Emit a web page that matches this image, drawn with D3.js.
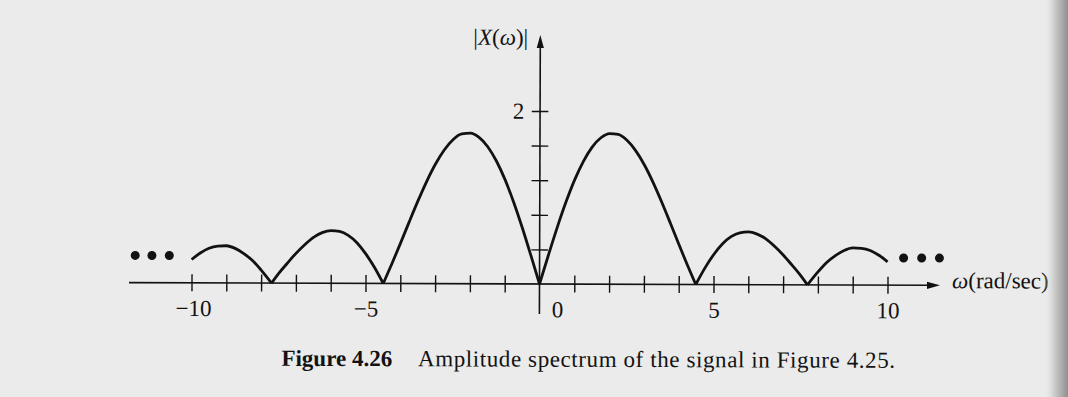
<!DOCTYPE html>
<html>
<head>
<meta charset="utf-8">
<script src="https://cdn.jsdelivr.net/npm/d3@7"></script>
<style>
  html, body { margin: 0; padding: 0; background: #ebebeb; }
  svg { display: block; }
</style>
</head>
<body>
<svg id="chart" width="1068" height="397"></svg>
<script>
// Amplitude spectrum |X(ω)| sampled for ω ≥ 0 (the spectrum is even in ω).
const omega = [0, 0.25, 0.5, 0.75, 1, 1.25, 1.5, 1.75, 2, 2.25, 2.5, 2.75, 3, 3.25, 3.5, 3.75, 4, 4.25, 4.49,
               4.75, 5, 5.25, 5.5, 5.75, 6, 6.25, 6.5, 6.75, 7, 7.25, 7.5, 7.7,
               8, 8.25, 8.5, 8.75, 9, 9.25, 9.5, 9.75, 10];
const magnitude = [0, 0.33, 0.65, 0.945, 1.205, 1.42, 1.585, 1.693, 1.742, 1.732, 1.665, 1.546, 1.383, 1.183, 0.956, 0.713, 0.464, 0.222, 0,
                   0.19, 0.345, 0.47, 0.555, 0.60, 0.61, 0.585, 0.53, 0.445, 0.345, 0.23, 0.11, 0,
                   0.15, 0.26, 0.34, 0.40, 0.43, 0.425, 0.40, 0.345, 0.27];

// Axis ticks and labels
const xTicks = [-10, -9, -8, -7, -6, -5, -4, -3, -2, -1, 1, 2, 3, 4, 5, 6, 7, 8, 9, 10];
const xTickLabels = [-10, -5, 0, 5, 10];
const yTicks = [0.4, 0.8, 1.2, 1.6, 2.0];
const yTickLabels = [2];

// "continues" dots at both ends of the frequency axis
const leftDots = [-11.62, -11.14, -10.64];
const rightDots = [10.46, 10.98, 11.49];
const dotLevel = 0.315;

const W = 1068, H = 397;
const serif = "'Liberation Serif', 'Times New Roman', Times, serif";
const fontSize = "23px";

const svg = d3.select("#chart");
const defs = svg.append("defs");

const edge = defs.append("linearGradient").attr("id", "edgeShade")
  .attr("x1", "0").attr("x2", "1").attr("y1", "0").attr("y2", "0");
edge.append("stop").attr("offset", "0").attr("stop-color", "#ebebeb").attr("stop-opacity", 0);
edge.append("stop").attr("offset", "0.4").attr("stop-color", "#cfcfcf").attr("stop-opacity", 1);
edge.append("stop").attr("offset", "1").attr("stop-color", "#909090").attr("stop-opacity", 1);

svg.append("rect").attr("width", W).attr("height", H).attr("fill", "#ebebeb");

const page = svg.append("g").attr("transform", "rotate(0.19, 540, 284)");

// scales
const x = d3.scaleLinear().domain([-10, 10]).range([191.5, 887.5]);
const y = d3.scaleLinear().domain([0, 2]).range([284, 111]);

const ink = "#121212";

// --- horizontal axis ---
const xAxisG = page.append("g").attr("transform", `translate(0,${y(0)})`);
xAxisG.call(d3.axisBottom(x).tickValues(xTicks).tickSize(8.5).tickFormat(""))
  .call(g => g.select(".domain").remove())
  .call(g => g.selectAll(".tick line").attr("y1", -8.5).attr("y2", 8.5)
                .attr("stroke", ink).attr("stroke-width", 1.4));

const xLabelG = page.append("g").attr("transform", `translate(0,${y(0)})`);
xLabelG.call(d3.axisBottom(x).tickValues(xTickLabels).tickSize(0).tickPadding(16.8))
  .call(g => g.select(".domain").remove())
  .call(g => g.selectAll("text")
      .attr("fill", ink)
      .style("font-family", serif)
      .style("font-size", fontSize)
      .attr("dx", d => d === 0 ? 17.5 : (d === -10 ? 1.5 : 0)));

const xEnd = 940;
page.append("line")
  .attr("x1", 129).attr("x2", xEnd - 10)
  .attr("y1", y(0)).attr("y2", y(0))
  .attr("stroke", ink).attr("stroke-width", 1.6);
page.append("path")
  .attr("d", `M${xEnd},${y(0)} L${xEnd - 13},${y(0) - 3.6} L${xEnd - 13},${y(0) + 3.6} Z`)
  .attr("fill", ink);

page.append("text")
  .attr("x", 952).attr("y", 286.8)
  .attr("fill", ink)
  .style("font-family", serif)
  .style("font-size", fontSize)
  .call(t => {
    t.append("tspan").attr("font-style", "italic").text("ω");
    t.append("tspan").text("(rad/sec)");
  });

// --- vertical axis ---
const yAxisG = page.append("g").attr("transform", `translate(${x(0)},0)`);
yAxisG.call(d3.axisLeft(y).tickValues(yTicks).tickSize(8.3).tickFormat(""))
  .call(g => g.select(".domain").remove())
  .call(g => g.selectAll(".tick line").attr("x1", -8.3).attr("x2", 8.3)
                .attr("stroke", ink).attr("stroke-width", 1.4));

const yLabelG = page.append("g").attr("transform", `translate(${x(0)},0)`);
yLabelG.call(d3.axisLeft(y).tickValues(yTickLabels).tickSize(0).tickPadding(15.8).tickFormat(d3.format("d")))
  .call(g => g.select(".domain").remove())
  .call(g => g.selectAll("text")
      .attr("fill", ink)
      .style("font-family", serif)
      .style("font-size", fontSize));

const yTop = 35;
page.append("line")
  .attr("x1", x(0)).attr("x2", x(0))
  .attr("y1", 314).attr("y2", yTop + 10)
  .attr("stroke", ink).attr("stroke-width", 1.6);
page.append("path")
  .attr("d", `M${x(0)},${yTop} L${x(0) - 3.6},${yTop + 13} L${x(0) + 3.6},${yTop + 13} Z`)
  .attr("fill", ink);

page.append("text")
  .attr("x", 472.5).attr("y", 45)
  .attr("fill", ink)
  .style("font-family", serif)
  .style("font-size", fontSize)
  .call(t => {
    t.append("tspan").text("|");
    t.append("tspan").attr("font-style", "italic").text("X");
    t.append("tspan").text("(");
    t.append("tspan").attr("font-style", "italic").text("ω");
    t.append("tspan").text(")|");
  });

// --- spectrum curve: mirror to negative ω, split into lobes at the zeros ---
const points = [];
for (let i = omega.length - 1; i > 0; i--) points.push([-omega[i], magnitude[i]]);
for (let i = 0; i < omega.length; i++) points.push([omega[i], magnitude[i]]);

const lobes = [];
let current = [];
points.forEach(p => {
  current.push(p);
  if (p[1] === 0 && current.length > 1) {
    lobes.push(current);
    current = [p];
  }
});
if (current.length > 1) lobes.push(current);

const line = d3.line()
  .x(d => x(d[0]))
  .y(d => y(d[1]))
  .curve(d3.curveMonotoneX);

page.append("g")
  .selectAll("path")
  .data(lobes)
  .join("path")
  .attr("d", line)
  .attr("fill", "none")
  .attr("stroke", ink)
  .attr("stroke-width", 2.8)
  .attr("stroke-linejoin", "round");

// continuation dots
page.append("g")
  .selectAll("circle")
  .data(leftDots.concat(rightDots))
  .join("circle")
  .attr("cx", d => x(d))
  .attr("cy", y(dotLevel))
  .attr("r", 4.5)
  .attr("fill", ink);

// caption
page.append("text")
  .attr("x", 281.7).attr("y", 366.7)
  .attr("fill", ink)
  .style("font-family", serif)
  .style("font-size", fontSize)
  .call(t => {
    t.append("tspan").attr("font-weight", "bold").text("Figure 4.26");
    t.append("tspan").attr("x", 418.3)
      .attr("textLength", 477).attr("lengthAdjust", "spacing")
      .text("Amplitude spectrum of the signal in Figure 4.25.");
  });

// darkened page edge at the right
svg.append("rect")
  .attr("x", 1044).attr("y", 0)
  .attr("width", 24).attr("height", H)
  .attr("fill", "url(#edgeShade)");
</script>
</body>
</html>
